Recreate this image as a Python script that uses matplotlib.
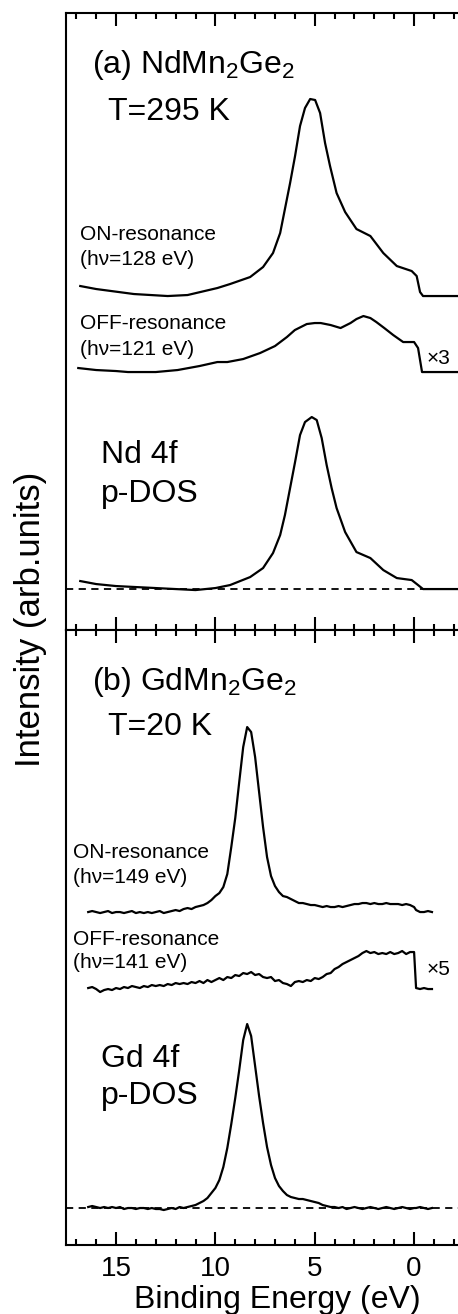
import numpy as np
import matplotlib.pyplot as plt

plt.rcParams['font.family'] = ['Liberation Sans', 'DejaVu Sans']
plt.rcParams['mathtext.default'] = 'regular'

# ---- (a) NdMn2Ge2, T=295 K ----
e_nd_on = [16.8, 16.0, 14.1, 12.4, 11.4, 9.9, 9.26, 8.25, 7.6, 7.1, 6.74, 6.5, 6.24, 5.99,
           5.74, 5.49, 5.23, 4.98, 4.73, 4.48, 4.23, 3.9, 3.47, 2.9, 2.2, 1.55, 0.87, 0.12,
           -0.13, -0.3, -0.45, -2.3]
nd_on = [0.10, 0.07, 0.02, 0.00, 0.01, 0.08, 0.12, 0.19, 0.29, 0.43, 0.63, 0.87, 1.13, 1.40,
         1.70, 1.88, 1.97, 1.96, 1.83, 1.53, 1.30, 1.03, 0.84, 0.67, 0.60, 0.43, 0.30, 0.25,
         0.20, 0.04, 0.00, 0.00]

e_nd_off = [16.9, 16.0, 15.0, 14.4, 13.0, 11.9, 10.8, 9.9, 9.4, 8.6, 7.75, 7.0, 6.4, 6.0,
            5.4, 5.0, 4.7, 4.2, 3.7, 3.2, 2.9, 2.55, 2.2, 1.9, 1.5, 1.05, 0.55, 0.0, -0.2,
            -0.4, -2.3]
nd_off = [0.04, 0.02, 0.01, 0.00, 0.00, 0.02, 0.06, 0.10, 0.10, 0.13, 0.19, 0.26, 0.35, 0.42,
          0.48, 0.49, 0.49, 0.47, 0.44, 0.49, 0.53, 0.56, 0.54, 0.50, 0.44, 0.37, 0.30, 0.30,
          0.24, 0.00, 0.00]

e_nd_dos = [16.8, 16.0, 15.0, 14.0, 13.0, 12.0, 11.0, 10.0, 9.26, 8.25, 7.6, 7.1, 6.74, 6.5,
            6.24, 5.99, 5.74, 5.49, 5.15, 4.9, 4.65, 4.4, 4.15, 3.9, 3.47, 2.9, 2.2, 1.55, 0.87,
            0.12, -0.2, -0.45, -2.3]
nd_dos = [0.08, 0.05, 0.03, 0.02, 0.01, 0.00, -0.01, 0.01, 0.04, 0.12, 0.21, 0.36, 0.54, 0.74,
          1.01, 1.27, 1.54, 1.67, 1.72, 1.69, 1.51, 1.24, 1.01, 0.81, 0.57, 0.37, 0.31, 0.19, 0.11,
          0.09, 0.04, 0.00, 0.00]

# ---- (b) GdMn2Ge2, T=20 K ----
e_gd = [16.4, 16.2, 16.0, 15.8, 15.6, 15.4, 15.2, 15.0, 14.8, 14.6, 14.4, 14.2, 14.0, 13.8,
        13.6, 13.4, 13.2, 13.0, 12.8, 12.6, 12.4, 12.2, 12.0, 11.8, 11.6, 11.4, 11.2, 11.0,
        10.8, 10.6, 10.4, 10.2, 10.0, 9.8, 9.6, 9.4, 9.2, 9.0, 8.8, 8.6, 8.4, 8.2, 8.0, 7.8,
        7.6, 7.4, 7.2, 7.0, 6.8, 6.6, 6.4, 6.2, 6.0, 5.8, 5.6, 5.4, 5.2, 5.0, 4.8, 4.6, 4.4,
        4.2, 4.0, 3.8, 3.6, 3.4, 3.2, 3.0, 2.8, 2.6, 2.4, 2.2, 2.0, 1.8, 1.6, 1.4, 1.2, 1.0,
        0.8, 0.6, 0.4, 0.2, 0.0, -0.1, -0.3, -0.5, -0.7, -0.9]

gd_on = [0.00, 0.01, 0.00, -0.01, 0.00, 0.01, -0.01, 0.00, 0.00, -0.01, 0.00, 0.01, -0.01, 0.00,
         -0.01, 0.00, -0.01, 0.00, 0.01, -0.01, 0.00, 0.01, 0.02, 0.01, 0.03, 0.04, 0.03, 0.05,
         0.06, 0.07, 0.09, 0.12, 0.16, 0.19, 0.25, 0.38, 0.65, 0.94, 1.30, 1.65, 1.85, 1.80, 1.55, 1.20,
         0.85, 0.55, 0.36, 0.26, 0.20, 0.16, 0.15, 0.13, 0.11, 0.09, 0.09, 0.08, 0.07, 0.07, 0.06, 0.05, 0.06,
         0.05, 0.05, 0.06, 0.05, 0.06, 0.07, 0.08, 0.08, 0.09, 0.09, 0.08, 0.09, 0.08, 0.08, 0.09, 0.08, 0.08,
         0.08, 0.07, 0.08, 0.07, 0.05, 0.02, 0.00, 0.00, 0.01, 0.00]

gd_off = [0.00, 0.01, -0.01, -0.04, -0.02, -0.01, -0.02, 0.00, -0.01, 0.01, 0.00, 0.02, 0.01, 0.00,
          0.02, 0.01, 0.03, 0.02, 0.03, 0.02, 0.04, 0.03, 0.05, 0.04, 0.05, 0.04, 0.06, 0.05,
          0.07, 0.05, 0.08, 0.06, 0.08, 0.10, 0.08, 0.11, 0.10, 0.13, 0.12, 0.15, 0.14, 0.16, 0.13, 0.14,
          0.11, 0.10, 0.11, 0.07, 0.08, 0.05, 0.04, 0.02, 0.06, 0.07, 0.06, 0.08, 0.07, 0.10, 0.09, 0.11, 0.14,
          0.15, 0.19, 0.21, 0.24, 0.26, 0.28, 0.30, 0.32, 0.35, 0.37, 0.35, 0.36, 0.34, 0.35, 0.34, 0.36, 0.34,
          0.35, 0.37, 0.34, 0.36, 0.36, 0.00, -0.01, 0.00, -0.01, -0.01]

gd_dos = [0.01, 0.02, 0.01, 0.00, 0.01, 0.00, 0.01, 0.00, 0.01, -0.01, 0.00, 0.00, -0.01, 0.00,
          0.00, -0.01, 0.00, -0.01, -0.01, -0.02, -0.01, 0.00, -0.01, 0.01, 0.00, 0.01, 0.02, 0.03,
          0.05, 0.07, 0.10, 0.15, 0.20, 0.28, 0.41, 0.60, 0.84, 1.10, 1.38, 1.68, 1.84, 1.72, 1.42, 1.12,
          0.85, 0.61, 0.43, 0.30, 0.22, 0.17, 0.13, 0.11, 0.10, 0.09, 0.09, 0.08, 0.07, 0.06, 0.05, 0.03, 0.02,
          0.01, 0.01, 0.00, 0.01, -0.01, 0.00, 0.01, 0.00, -0.01, 0.00, 0.01, 0.00, -0.01, 0.00, 0.01, 0.00, -0.01,
          0.00, 0.01, 0.00, -0.01, 0.00, 0.00, 0.01, 0.00, -0.01, 0.00]

# vertical offsets of the stacked spectra
off_a = {'on': 3.34, 'off': 2.58, 'dos': 0.41}
off_b = {'on': 3.33, 'off': 2.57, 'dos': 0.37}

FS_BIG = 23
FS_SMALL = 15


def style(ax, labels):
    ax.set_xlim(17.52, -2.21)
    ax.set_yticks([])
    ax.spines['right'].set_visible(False)
    for s in ['left', 'top', 'bottom']:
        ax.spines[s].set_linewidth(1.5)
    ax.set_xticks([15, 10, 5, 0])
    ax.set_xticks(np.arange(-2, 18, 1), minor=True)
    ax.tick_params(axis='x', which='both', direction='in', top=True, bottom=True,
                   width=1.5, labelsize=20, pad=8, labelbottom=labels)
    ax.tick_params(axis='x', which='major', length=9.5)
    ax.tick_params(axis='x', which='minor', length=4.5)


fig = plt.figure(figsize=(4.58, 13.14), dpi=100)
ax_a = fig.add_axes([0.144, 0.5205, 0.856, 0.4696])
ax_b = fig.add_axes([0.144, 0.0525, 0.856, 0.468])

lw = 1.6
ax_a.plot(e_nd_on, np.array(nd_on) + off_a['on'], color='black', lw=lw)
ax_a.plot(e_nd_off, np.array(nd_off) + off_a['off'], color='black', lw=lw)
ax_a.plot(e_nd_dos, np.array(nd_dos) + off_a['dos'], color='black', lw=lw)
ax_a.axhline(off_a['dos'], color='black', lw=1.3, ls=(0, (4, 3)))
ax_a.set_ylim(0, 6.17)
style(ax_a, False)

ax_a.text(16.2, 5.57, '(a) NdMn$_2$Ge$_2$', fontsize=FS_BIG)
ax_a.text(15.4, 5.10, 'T=295 K', fontsize=FS_BIG)
ax_a.text(16.8, 3.90, 'ON-resonance', fontsize=FS_SMALL)
ax_a.text(16.8, 3.65, '(h\u03bd=128 eV)', fontsize=FS_SMALL)
ax_a.text(16.8, 3.01, 'OFF-resonance', fontsize=FS_SMALL)
ax_a.text(16.8, 2.75, '(h\u03bd=121 eV)', fontsize=FS_SMALL)
ax_a.text(-0.65, 2.66, '\u00d73', fontsize=FS_SMALL)
ax_a.text(15.75, 1.67, 'Nd 4f', fontsize=FS_BIG)
ax_a.text(15.75, 1.28, 'p-DOS', fontsize=FS_BIG)

ax_b.plot(e_gd, np.array(gd_on) + off_b['on'], color='black', lw=lw)
ax_b.plot(e_gd, np.array(gd_off) + off_b['off'], color='black', lw=lw)
ax_b.plot(e_gd, np.array(gd_dos) + off_b['dos'], color='black', lw=lw)
ax_b.axhline(off_b['dos'], color='black', lw=1.3, ls=(0, (4, 3)))
ax_b.set_ylim(0, 6.15)
style(ax_b, True)

ax_b.text(16.2, 5.55, '(b) GdMn$_2$Ge$_2$', fontsize=FS_BIG)
ax_b.text(15.4, 5.10, 'T=20 K', fontsize=FS_BIG)
ax_b.text(17.15, 3.87, 'ON-resonance', fontsize=FS_SMALL)
ax_b.text(17.15, 3.62, '(h\u03bd=149 eV)', fontsize=FS_SMALL)
ax_b.text(17.15, 3.00, 'OFF-resonance', fontsize=FS_SMALL)
ax_b.text(17.15, 2.77, '(h\u03bd=141 eV)', fontsize=FS_SMALL)
ax_b.text(-0.65, 2.70, '\u00d75', fontsize=FS_SMALL)
ax_b.text(15.75, 1.78, 'Gd 4f', fontsize=FS_BIG)
ax_b.text(15.75, 1.41, 'p-DOS', fontsize=FS_BIG)

fig.text(0.605, 0.0046, 'Binding Energy (eV)', fontsize=FS_BIG, ha='center', va='baseline')
fig.text(0.066, 0.529, 'Intensity (arb.units)', fontsize=25, rotation=90,
         ha='center', va='center')

fig.savefig('out.png', dpi=100)
